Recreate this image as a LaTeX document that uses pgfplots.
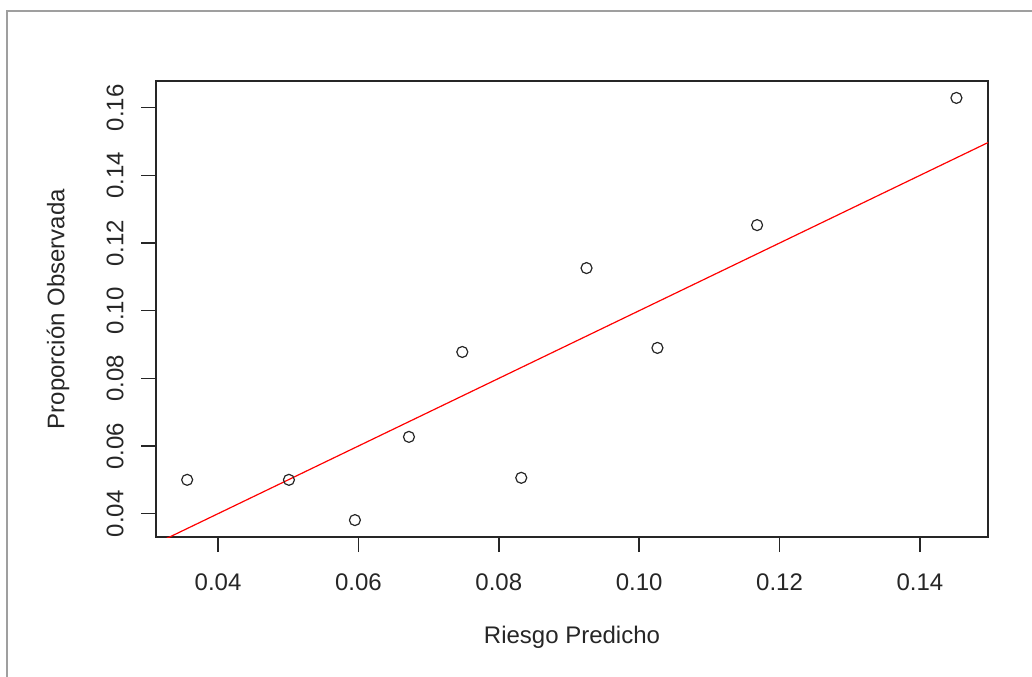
\documentclass[border=0pt]{standalone}
\usepackage{pgfplots}
\pgfplotsset{compat=1.18}
\usepackage{fontspec}
\setmainfont{Liberation Sans}
\begin{document}
\begin{tikzpicture}
\useasboundingbox (0,0) rectangle (516pt,338pt);
\draw[gray!75, line width=0.6pt] (3.5pt,-5pt) rectangle (530pt,332.5pt);
\begin{axis}[
  at={(78pt,69.5pt)}, anchor=south west,
  scale only axis, width=416pt, height=228pt,
  xmin=0.03116, xmax=0.1497, ymin=0.0331, ymax=0.1679,
  xtick={0.04,0.06,...,0.141}, ytick={0.04,0.06,...,0.161},
  tick align=outside, major tick length=7.5pt,
  xtick pos=bottom, ytick pos=left,
  axis line style={line width=0.75pt, black!85},
  every tick/.style={line width=0.75pt, black!85},
  /pgf/number format/.cd, fixed, fixed zerofill, precision=2, assume math mode=true,
  /pgfplots/.cd,
  tick label style={font=\fontsize{12}{14}\selectfont, text=black!85},
  xticklabel style={anchor=center, yshift=-15pt},
  yticklabel style={anchor=center, xshift=-13pt, rotate=90},
  label style={font=\fontsize{12}{14}\selectfont, text=black!85},
  xlabel={Riesgo Predicho},
  ylabel={Proporción Observada},
  xlabel style={at={(axis description cs:0.5,-0.219)}, anchor=center},
  ylabel style={at={(axis description cs:-0.1178,0.5)}, anchor=center},
  clip=true,
]
\addplot[red, line width=0.6pt] coordinates {(0.03,0.03) (0.16,0.16)};
\addplot[only marks, mark=o, mark size=2.75pt, mark options={line width=0.6pt, black!85}] coordinates {
(0.0356,0.0500)
(0.0501,0.0500)
(0.0595,0.0381)
(0.0672,0.0627)
(0.0748,0.0878)
(0.0832,0.0506)
(0.0925,0.1126)
(0.1026,0.0890)
(0.1168,0.1253)
(0.1452,0.1629)
};
\end{axis}
\end{tikzpicture}
\end{document}
